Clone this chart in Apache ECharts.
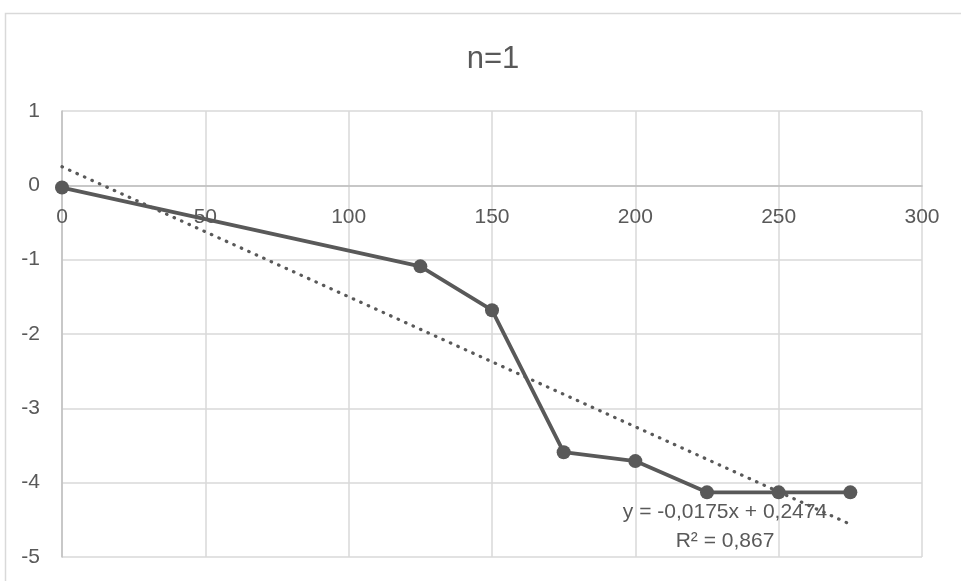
<!DOCTYPE html>
<html>
<head>
<meta charset="utf-8">
<script src="https://cdn.jsdelivr.net/npm/echarts@6/dist/echarts.min.js"></script>
<style>
html,body{margin:0;padding:0;background:#fff;}
#chart{width:961px;height:581px;}
</style>
</head>
<body>
<div id="chart"></div>
<script>
const titleText = 'n=1';
const xValues = [0, 125, 150, 175, 200, 225, 250, 275];
const yValues = [-0.03, -1.09, -1.68, -3.59, -3.71, -4.13, -4.13, -4.13];
const trendX = [0, 275];
const trendY = [0.25, -4.56];
const equationLines = ['y = -0,0175x + 0,2474', 'R² = 0,867'];

const FONT = '"Liberation Sans", Arial, sans-serif';
const TXT = '#595959';
const GRID_H = 446;
const Y_MIN = -5, Y_MAX = 1;

const chart = echarts.init(document.getElementById('chart'), null, {renderer: 'canvas'});
const option = {
  backgroundColor: '#ffffff',
  animation: false,
  title: {
    text: titleText,
    left: 488,
    textAlign: 'center',
    top: 39,
    textStyle: {fontFamily: FONT, fontSize: 31, fontWeight: 'normal', color: TXT}
  },
  grid: {left: 62, top: 111, width: 860, height: GRID_H, containLabel: false},
  xAxis: {
    type: 'value', min: 0, max: 300, interval: 50,
    position: 'bottom',
    offset: -GRID_H * (0 - Y_MIN) / (Y_MAX - Y_MIN),
    axisLine: {show: true, onZero: false, lineStyle: {color: '#bfbfbf', width: 1.5}},
    axisTick: {show: false},
    axisLabel: {fontFamily: FONT, fontSize: 21, color: TXT, margin: 21},
    splitLine: {show: true, lineStyle: {color: '#d9d9d9', width: 1.5}}
  },
  yAxis: {
    type: 'value', min: Y_MIN, max: Y_MAX, interval: 1,
    axisLine: {show: true, onZero: false, lineStyle: {color: '#bfbfbf', width: 1.5}},
    axisTick: {show: false},
    axisLabel: {fontFamily: FONT, fontSize: 21, color: TXT, margin: 22},
    splitLine: {show: true, lineStyle: {color: '#d9d9d9', width: 1.5}}
  },
  series: [
    {
      type: 'line',
      data: xValues.map((x, i) => [x, yValues[i]]),
      symbol: 'circle', symbolSize: 14,
      lineStyle: {color: '#595959', width: 3.8},
      itemStyle: {color: '#595959'},
      z: 2
    },
    {
      type: 'line',
      data: trendX.map((x, i) => [x, trendY[i]]),
      symbol: 'none',
      lineStyle: {color: '#595959', width: 3.2, type: [0.5, 7.7], cap: 'round'},
      z: 3
    }
  ],
  graphic: [
    {type: 'rect', left: 3, top: 11, shape: {width: 1000, height: 700},
     style: {fill: 'none', stroke: '#d9d9d9', lineWidth: 1.5}, z: -1},
    {type: 'text', x: 725, y: 512, style: {text: equationLines[0], font: '21px ' + FONT, fill: TXT, align: 'center', verticalAlign: 'middle'}, z: 10},
    {type: 'text', x: 725, y: 541, style: {text: equationLines[1], font: '21px ' + FONT, fill: TXT, align: 'center', verticalAlign: 'middle'}, z: 10}
  ]
};
chart.setOption(option);
</script>
</body>
</html>
